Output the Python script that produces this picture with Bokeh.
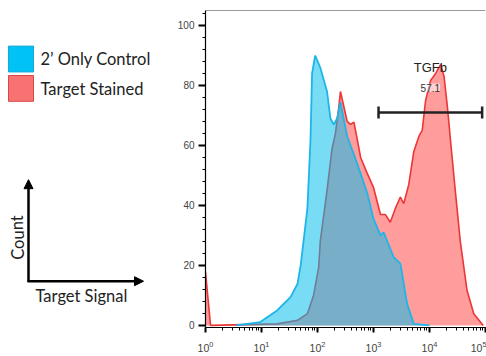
from bokeh.plotting import figure
from bokeh.layouts import row
from bokeh.models import (Range1d, SingleIntervalTicker, LogTicker, Arrow, NormalHead, Span)
from bokeh.core.properties import value
from bokeh.embed import file_html
from bokeh.resources import INLINE

# ---- data ----
control_signal = [3.5, 9.5, 19, 27, 33, 44, 50, 58, 66, 75, 80, 91, 112, 148, 170, 195, 224, 257,
                  339, 447, 589, 776, 1000, 1334, 1514, 2291, 3020, 3981, 5248, 10000]
control_count = [0, 1.1, 5, 7.8, 9.4, 13.9, 20, 30, 39, 62, 84, 90, 86, 78, 69, 67, 69, 74.4,
                 63, 57, 50.6, 44, 35.5, 30, 31, 22.8, 20.6, 7.2, 0.5, 0]

stained_signal = [1, 1.23, 19, 44, 66, 85, 105, 112, 148, 182, 209, 240, 257, 339, 389, 447, 513,
                  589, 776, 1000, 1334, 1622, 1995, 2455, 3020, 3467, 4266, 5248, 6457, 7413,
                  8511, 10471, 12882, 15849, 18197, 20893, 23714, 28840, 35481, 46774, 61660, 91201]
stained_count = [17.8, 0, 0.5, 1.7, 3.9, 10, 19.4, 28, 45, 59, 64, 72.8, 78, 68, 67, 67.8, 62,
                 56, 50.6, 46, 37, 37, 34.4, 39, 42.8, 40.6, 47, 58, 63, 65,
                 75, 81.7, 84, 87, 83, 72.8, 61.7, 45, 28, 11.7, 3.9, 0]

gate_start = [1230]
gate_end = [87100]
gate_level = [71]
gate_name = ["TGFb"]
gate_pct = ["57.1"]

legend_labels = ["2\u2019 Only Control", "Target Stained"]
y_ticks_interval = 20
Y_MAX = 105

# ---- left panel (legend + schematic axes) ----
lf = figure(width=168, height=356, x_range=Range1d(0, 168), y_range=Range1d(356, 0),
            toolbar_location=None, output_backend="svg", min_border=0)
lf.axis.visible = False
lf.grid.visible = False
lf.outline_line_color = None

lf.quad(left=[8], right=[33], top=[40], bottom=[69], fill_color="#00c2f5", line_color="#19a9d8")
lf.quad(left=[8], right=[33], top=[73], bottom=[102], fill_color="#f87272", line_color="#d84848")
lf.text(x=[40, 40], y=[55, 88], text=legend_labels, text_font=value("Lato"),
        text_font_size="16.5px", text_baseline="middle", text_color="#222222")

lf.add_layout(Arrow(end=NormalHead(size=9, fill_color="black", line_color="black"),
                    x_start=28, y_start=305, x_end=28, y_end=190, line_width=2.5))
lf.add_layout(Arrow(end=NormalHead(size=9, fill_color="black", line_color="black"),
                    x_start=27, y_start=304, x_end=143, y_end=304, line_width=2.5))
lf.text(x=[17], y=[255], text=["Count"], angle=1.5708, text_font=value("Lato"),
        text_font_size="16.5px", text_align="center", text_baseline="middle", text_color="#222222")
lf.text(x=[35], y=[321], text=["Target Signal"], text_font=value("Lato"),
        text_font_size="16.5px", text_baseline="middle", text_color="#222222")

# ---- main histogram ----
p = figure(width=318, height=356, x_axis_type="log", x_range=Range1d(1, 1e5),
           y_range=Range1d(-0.7, Y_MAX), toolbar_location=None, output_backend="svg",
           min_border_left=37, min_border_right=1, min_border_top=10, min_border_bottom=29)
p.grid.visible = False
p.outline_line_color = None
p.background_fill_color = "white"

p.varea(x=stained_signal, y1=0, y2=stained_count, fill_color="#ff9d9d", fill_alpha=1.0)
p.line(stained_signal, stained_count, line_color="#ee3535", line_width=1.6)
p.varea(x=control_signal, y1=0, y2=control_count, fill_color="#00bdec", fill_alpha=0.53)
p.line(control_signal, control_count, line_color="#1cb6e8", line_width=1.8)

# gate
p.segment(x0=gate_start, y0=gate_level, x1=gate_end, y1=gate_level, line_color="#222222",
          line_width=2.5)
p.scatter(x=gate_start + gate_end, y=gate_level * 2, marker="dash", angle=1.5708, size=12,
          line_color="#222222", line_width=2.5)
gx = [(gate_start[0] * gate_end[0]) ** 0.5]
p.text(x=gx, y=[86], text=gate_name, text_font=value("Liberation Sans"), text_font_size="13px",
       text_align="center", text_baseline="middle", text_color="#222222")
p.text(x=gx, y=[79.3], text=gate_pct, text_font=value("Liberation Sans"), text_font_size="10px",
       text_align="center", text_baseline="middle", text_color="#333333",
       background_fill_color="white", background_fill_alpha=0.55)

p.add_layout(Span(location=Y_MAX, dimension="width", line_color="#333333", line_width=1))

# axes
p.yaxis.ticker = SingleIntervalTicker(interval=y_ticks_interval, num_minor_ticks=5)
p.xaxis.ticker = LogTicker(num_minor_ticks=10)
for ax in (p.xaxis, p.yaxis):
    ax.axis_line_color = "black"
    ax.axis_line_width = 1.2
    ax.major_tick_in = 0
    ax.minor_tick_in = 0
    ax.major_tick_line_width = 2
    ax.major_tick_line_color = "black"
    ax.minor_tick_line_color = "black"
    ax.major_label_text_font = "Liberation Sans"
    ax.major_label_text_color = "#444444"
p.yaxis.major_label_text_font_size = "10px"
p.xaxis.major_label_text_font_size = "10.5px"
p.yaxis.major_tick_out = 7
p.yaxis.minor_tick_out = 3
p.yaxis.major_label_standoff = 4
p.xaxis.major_tick_out = 5
p.xaxis.minor_tick_out = 3
p.xaxis.major_label_standoff = 8

layout = row(lf, p)
open("out.html", "w").write(file_html(layout, INLINE))
